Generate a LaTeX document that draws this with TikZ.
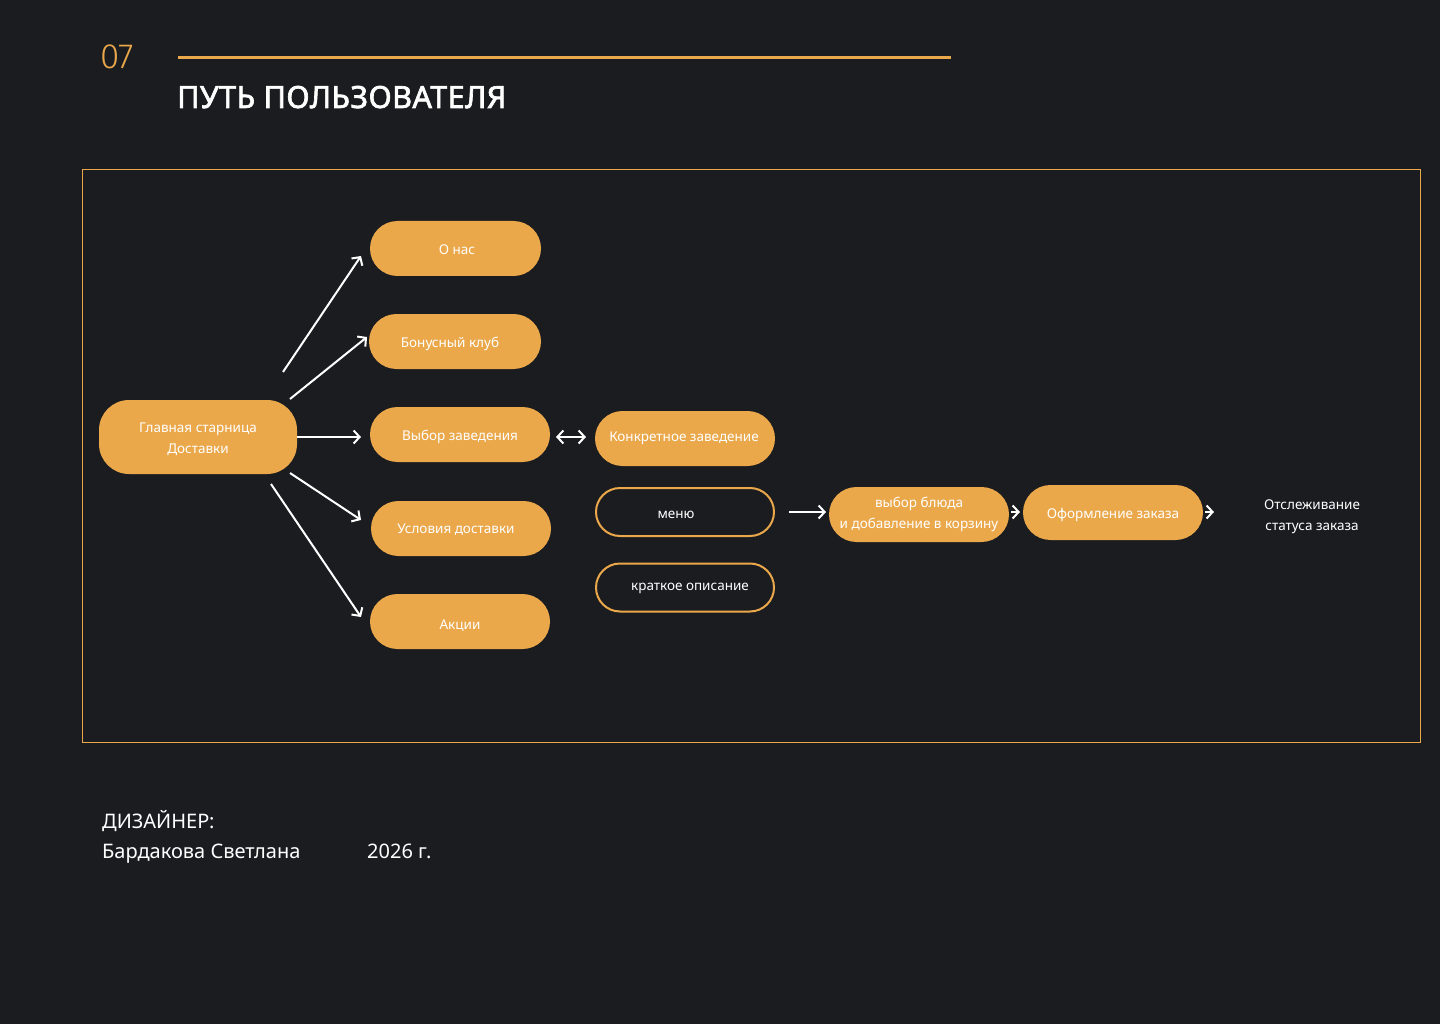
\documentclass[tikz,border=0pt]{standalone}
\usepackage{fontspec}
\setmainfont{Noto Sans}
\newfontfamily\titlefont{Noto Sans}[FakeBold=2.2, LetterSpace=1.5]
\newfontfamily\thinfont{Fira Sans Light}
\usetikzlibrary{arrows.meta}
\definecolor{bg}{HTML}{1B1C20}
\definecolor{org}{HTML}{EAA84B}
\begin{document}
\begin{tikzpicture}[x=1pt,y=-1pt,
  pillbase/.style={fill=org, draw=none, rounded corners=27.5pt, minimum width=180pt, minimum height=55pt, inner sep=0pt, text=white, font=\fontsize{13.5}{21}\selectfont, align=center},
  pill/.style={pillbase, text height=14pt, text depth=3pt},
  opill/.style={draw=org, line width=2pt, rounded corners=24pt, minimum width=178pt, minimum height=48pt, inner sep=0pt, fill=none},
  inlab/.style={text=white, inner sep=0pt, font=\fontsize{13.5}{21}\selectfont, text height=14pt, text depth=3pt},
  arr/.style={draw=white, line width=2pt, -{Straight Barb[length=6pt,width=13pt]}},
  darr/.style={draw=white, line width=2pt, {Straight Barb[length=6pt,width=13pt]}-{Straight Barb[length=6pt,width=13pt]}},
  plain/.style={text=white, inner sep=0pt, align=center}]
\useasboundingbox (0,0) rectangle (1440,1024);
\fill[bg] (0,0) rectangle (1440,1024);
% header
\node[anchor=west, inner sep=0pt, text=org, font=\thinfont\fontsize{35}{35}\selectfont] (num) at (100,57) {07};
\coordinate (rl) at (178,58);
\coordinate (rr) at (951,58);
\draw[org, line width=3pt] (rl) -- (rr);
\node[anchor=base west, inner sep=0pt, text=white, font=\titlefont\fontsize{30.5}{30}\selectfont] (title) at (177,108) {ПУТЬ ПОЛЬЗОВАТЕЛЯ};
% frame
\draw[org, line width=1pt] (82.5,169.5) rectangle (1420.5,742.5);
% nodes
\node[pillbase, minimum width=198pt, minimum height=74pt, rounded corners=30pt] (main) at (198,437) {};
\node[plain, font=\fontsize{13.5}{21}\selectfont] at (198,439) {Главная старница\\Доставки};
\node[pill, minimum width=171pt] (onas) at (455.5,248.5) {};
\node[inlab] at (457,249.5) {О нас};
\node[pill, minimum width=172pt] (bonus) at (455,341.5) {};
\node[inlab] at (450,341.5) {Бонусный клуб};
\node[pill] (vybor) at (460,434.5) {Выбор заведения};
\node[pill] (usl) at (461,528.5) {};
\node[inlab] at (456,527.5) {Условия доставки};
\node[pill] (akc) at (460,621.5) {};
\node[inlab] at (460,623.5) {Акции};
\node[pill] (konk) at (685,438.5) {};
\node[inlab] at (684,436) {Конкретное заведение};
\node[opill] (menu) at (685,512) {};
\node[inlab] at (676,512.5) {меню};
\node[opill] (kratk) at (685,587.5) {};
\node[inlab] at (690,584.5) {краткое описание};
\node[pillbase] (bludo) at (919,514.5) {выбор блюда\\и добавление в корзину};
\node[pill] (oform) at (1113,512.5) {Оформление заказа};
\node[plain, font=\fontsize{13.5}{21}\selectfont] (track) at (1312,517) {Отслеживание\\статуса заказа};
% arrow coordinates
\coordinate (a1s) at (283,372); \coordinate (a1e) at (361,256);
\coordinate (a2s) at (290,399); \coordinate (a2e) at (367,337);
\coordinate (a3s) at (297,437); \coordinate (a3e) at (361,437);
\coordinate (a4s) at (290,473); \coordinate (a4e) at (361,520);
\coordinate (a5s) at (271,484); \coordinate (a5e) at (361,617);
\coordinate (a6s) at (556,437); \coordinate (a6e) at (586,437);
\coordinate (a7s) at (789,512); \coordinate (a7e) at (826,512);
\coordinate (a8s) at (1011,512); \coordinate (a8e) at (1020,512);
\coordinate (a9s) at (1205,512); \coordinate (a9e) at (1214,512);
\draw[arr] (a1s) -- (a1e);
\draw[arr] (a2s) -- (a2e);
\draw[arr] (a3s) -- (a3e);
\draw[arr] (a4s) -- (a4e);
\draw[arr] (a5s) -- (a5e);
\draw[darr] (a6s) -- (a6e);
\draw[arr] (a7s) -- (a7e);
\draw[arr] (a8s) -- (a8e);
\draw[arr] (a9s) -- (a9e);
% footer
\node[anchor=base west, inner sep=0pt, text=white, font=\fontsize{20}{20}\selectfont] (des) at (102,828) {ДИЗАЙНЕР:};
\node[anchor=base west, inner sep=0pt, text=white, font=\fontsize{20}{20}\selectfont] (name) at (102,858) {Бардакова Светлана};
\node[anchor=base west, inner sep=0pt, text=white, font=\fontsize{20}{20}\selectfont] (year) at (367,858) {2026 г.};
\end{tikzpicture}
\end{document}
